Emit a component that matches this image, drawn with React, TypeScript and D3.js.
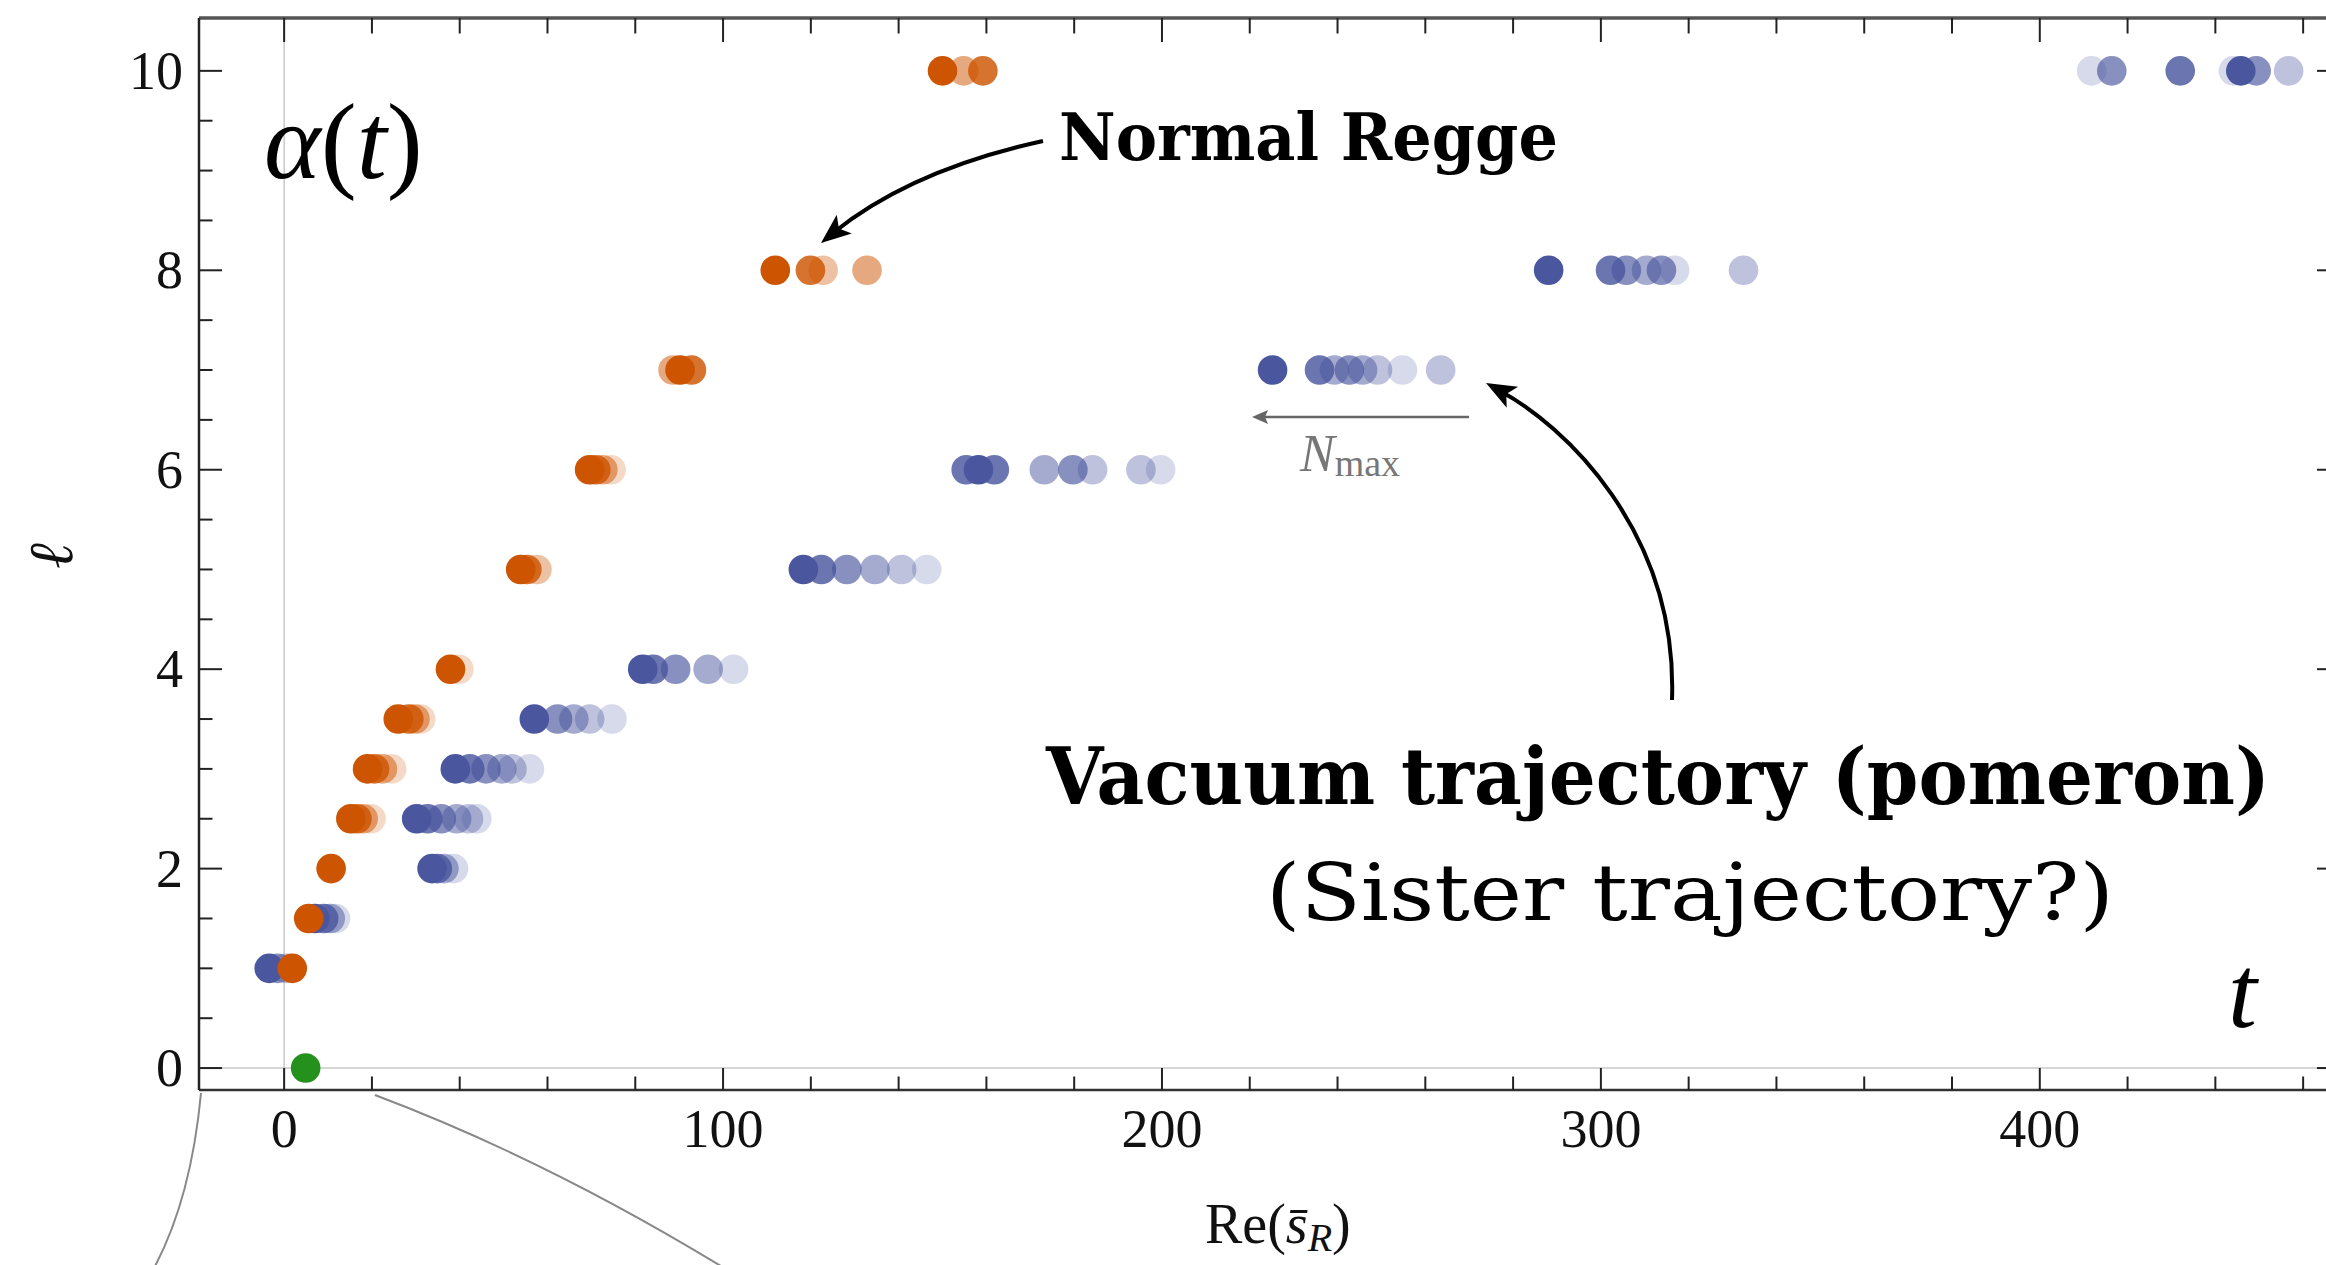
import React, { useLayoutEffect, useRef, useState } from "react";
import * as d3 from "d3";

const W = 2326;
const H = 1265;

// Normal Regge trajectory (orange): spin ℓ, Re(s̄_R), N_max level (0 = darkest)
const reggeEll = [1, 1.5, 2, 2.5, 2.5, 2.5, 2.5, 3, 3, 3, 3, 3.5, 3.5, 3.5, 3.5, 4, 4, 5, 5, 5, 6, 6, 6, 6, 7, 7, 7, 8, 8, 8, 8, 10, 10, 10];
const reggeRe = [1.85, 5.6, 10.7, 15.2, 16.6, 18.0, 19.8, 19.0, 20.6, 22.4, 24.5, 26.0, 28.4, 29.8, 31.1, 37.9, 39.8, 53.9, 55.3, 57.6, 69.6, 71.0, 72.6, 74.5, 88.6, 90.2, 92.8, 111.9, 119.9, 122.8, 132.8, 150.0, 154.8, 159.2];
const reggeLevel = [0, 0, 0, 0, 1, 3, 5, 0, 1, 3, 5, 0, 1, 3, 5, 0, 5, 0, 1, 4, 0, 1, 3, 5, 3, 0, 1, 0, 1, 4, 3, 0, 3, 1];

// Vacuum trajectory (blue)
const pomEll = [1, 1, 1, 1.5, 1.5, 1.5, 1.5, 2, 2, 2, 2, 2.5, 2.5, 2.5, 2.5, 2.5, 2.5, 3, 3, 3, 3, 3, 3, 3.5, 3.5, 3.5, 3.5, 3.5, 4, 4, 4, 4, 4, 5, 5, 5, 5, 5, 5, 6, 6, 6, 6, 6, 6, 6, 6, 7, 7, 7, 7, 7, 7, 7, 7, 8, 8, 8, 8, 8, 8, 8, 10, 10, 10, 10, 10, 10, 10];
const pomRe = [-3.4, -1.5, 0.5, 7.0, 9.0, 10.5, 11.7, 33.7, 34.9, 36.4, 38.6, 30.2, 32.7, 35.8, 39.3, 42.0, 43.9, 39.0, 42.3, 46.0, 49.6, 51.9, 55.9, 57.0, 62.3, 66.0, 69.6, 74.7, 81.7, 84.1, 89.2, 96.6, 102.4, 118.3, 122.4, 128.2, 134.6, 140.7, 146.4, 155.4, 158.2, 161.8, 173.2, 179.7, 184.2, 195.2, 199.7, 225.2, 235.9, 239.3, 242.7, 245.7, 249.1, 254.8, 263.5, 288.1, 302.2, 305.8, 310.4, 313.8, 316.8, 332.5, 411.8, 416.4, 432.0, 444.1, 445.8, 449.3, 456.7];
const pomLevel = [0, 2, 4, 0, 1, 3, 5, 0, 1, 3, 5, 0, 1, 2, 3, 4, 5, 0, 1, 2, 3, 4, 5, 0, 2, 3, 4, 5, 0, 1, 2, 3, 5, 0, 1, 2, 3, 4, 5, 1, 0, 1, 3, 2, 4, 4, 5, 0, 1, 3, 2, 3, 4, 5, 4, 0, 1, 2, 3, 2, 5, 4, 5, 2, 1, 5, 0, 2, 4];

// extra point (green)
const greenEll = [0];
const greenRe = [4.9];

const levelOpacity = [1, 0.82, 0.66, 0.5, 0.36, 0.22];
const xMajorTicks = [0, 100, 200, 300, 400];
const yMajorTicks = [0, 2, 4, 6, 8, 10];

const ORANGE = "#CD5400";
const BLUE = "#4A579E";
const GREEN = "#24911D";

function arrowHead(tx: number, ty: number, dx: number, dy: number, len = 30, half = 12, notch = 7) {
  const L = Math.hypot(dx, dy);
  const ux = dx / L, uy = dy / L;
  const px = -uy, py = ux;
  const bx = tx - ux * len, by = ty - uy * len;
  const nx = tx - ux * (len - notch), ny = ty - uy * (len - notch);
  return `M${tx},${ty}L${bx + px * half},${by + py * half}L${nx},${ny}L${bx - px * half},${by - py * half}Z`;
}

function FitText(props: { x: number; y: number; width: number; fontSize: number; bold?: boolean; family: string; text: string }) {
  const ref = useRef<SVGTextElement>(null);
  const [sx, setSx] = useState(1);
  useLayoutEffect(() => {
    if (ref.current) {
      const L = ref.current.getComputedTextLength();
      if (L > 0) setSx(props.width / L);
    }
  }, [props.width, props.text, props.fontSize]);
  return (
    <text
      ref={ref}
      transform={`translate(${props.x},${props.y}) scale(${sx},1)`}
      fontFamily={props.family}
      fontWeight={props.bold ? "bold" : "normal"}
      fontSize={props.fontSize}
      fill="#000"
    >
      {props.text}
    </text>
  );
}

export default function App() {
  const x = d3.scaleLinear().domain([-19.4, 468.4]).range([199, 2340]);
  const y = d3.scaleLinear().domain([-0.22, 10.53]).range([1090, 18]);
  const [x0, x1] = x.range();
  const [yb, yt] = y.range();
  const xMinor = d3.range(0, 461, 20);
  const yMinor = d3.range(0, 10.01, 0.5);

  const blue = pomEll.map((e, i) => ({ e, r: pomRe[i], a: levelOpacity[pomLevel[i]] })).sort((p, q) => p.a - q.a);
  const orange = reggeEll.map((e, i) => ({ e, r: reggeRe[i], a: levelOpacity[reggeLevel[i]] })).sort((p, q) => p.a - q.a);

  const R = 14.8;
  const serif = "'Liberation Serif', 'Times New Roman', serif";
  const slab = "'DejaVu Serif', serif";

  // annotation arrows
  const a1 = { p0: [1043, 141], c: [911, 170], p2: [821, 243] };
  const a2 = { p0: [1672, 700], c1: [1678, 530], c2: [1562, 424], p3: [1486, 383] };

  // zoom connector lines from the bottom axis
  const conn1 = `M${x0 + 2},${yb + 3} Q${x0 - 8},${yb + 110} ${x0 - 46},${H + 5}`;
  const conn2 = `M${x(20) + 3},${yb + 5} Q${x(60)},${yb + 70} ${x(101)},${H + 5}`;

  return (
    <svg width={W} height={H} style={{ position: "absolute", left: 0, top: 0, background: "#fff" }}>
      <rect x={0} y={0} width={W} height={H} fill="#fff" />
      {/* zero lines */}
      <line x1={x(0)} x2={x(0)} y1={yt} y2={yb} stroke="#c8c8c8" strokeWidth={1.5} />
      <line x1={x0} x2={x1} y1={y(0)} y2={y(0)} stroke="#c8c8c8" strokeWidth={1.5} />

      {/* points */}
      {blue.map((p, i) => (
        <circle key={"b" + i} cx={x(p.r)} cy={y(p.e)} r={R} fill={BLUE} fillOpacity={p.a} />
      ))}
      {orange.map((p, i) => (
        <circle key={"o" + i} cx={x(p.r)} cy={y(p.e)} r={R} fill={ORANGE} fillOpacity={p.a} />
      ))}
      {greenEll.map((e, i) => (
        <circle key={"g" + i} cx={x(greenRe[i])} cy={y(e)} r={R} fill={GREEN} />
      ))}

      {/* frame */}
      <line x1={x0} x2={x1} y1={yt} y2={yt} stroke="#555" strokeWidth={3.5} />
      <line x1={x0} x2={x1} y1={yb} y2={yb} stroke="#333" strokeWidth={2.5} />
      <line x1={x0} x2={x0} y1={yt} y2={yb} stroke="#222" strokeWidth={2.5} />
      <line x1={x1} x2={x1} y1={yt} y2={yb} stroke="#222" strokeWidth={2.5} />

      {/* x ticks */}
      {xMinor.map((v) => {
        const major = xMajorTicks.includes(v);
        const L = major ? 22 : 13.5;
        return (
          <g key={"xt" + v}>
            <line x1={x(v)} x2={x(v)} y1={yb} y2={yb - L} stroke="#222" strokeWidth={2} />
            <line x1={x(v)} x2={x(v)} y1={yt} y2={yt + L + 2} stroke="#222" strokeWidth={2} />
          </g>
        );
      })}
      {xMajorTicks.map((v) => (
        <text key={"xl" + v} x={x(v)} y={1147} textAnchor="middle" fontFamily={serif} fontSize={54} fill="#111">
          {v}
        </text>
      ))}

      {/* y ticks */}
      {yMinor.map((v) => {
        const major = yMajorTicks.includes(v);
        const L = major ? 23 : 13.5;
        return (
          <g key={"yt" + v}>
            <line x1={x0} x2={x0 + L} y1={y(v)} y2={y(v)} stroke="#222" strokeWidth={2} />
            <line x1={x1} x2={x1 - L} y1={y(v)} y2={y(v)} stroke="#222" strokeWidth={2} />
          </g>
        );
      })}
      {yMajorTicks.map((v) => (
        <text key={"yl" + v} x={183} y={y(v) + 18} textAnchor="end" fontFamily={serif} fontSize={54} fill="#111">
          {v}
        </text>
      ))}

      {/* axis labels */}
      <text x={1205} y={1243} fontFamily={serif} fontSize={56} fill="#111">
        Re(
        <tspan fontStyle="italic">s̄</tspan>
        <tspan fontStyle="italic" fontSize={40} dy={8}>R</tspan>
        <tspan dy={-8}>)</tspan>
      </text>
      <text
        x={0}
        y={0}
        transform="translate(72,556) rotate(-90)"
        textAnchor="middle"
        fontFamily={serif}
        fontStyle="italic"
        fontSize={62}
        fill="#111"
      >
        ℓ
      </text>

      {/* big math labels */}
      <text x={264} y={178} fontFamily={serif} fontSize={108} fill="#000">
        <tspan fontStyle="italic">α</tspan>(<tspan fontStyle="italic">t</tspan>)
      </text>
      <text x={2228} y={1027} fontFamily={serif} fontStyle="italic" fontSize={104} fill="#000">
        t
      </text>

      {/* annotations */}
      <FitText x={1059} y={160} width={499} fontSize={66} bold family={slab} text="Normal Regge" />
      <FitText x={1046} y={804} width={1224} fontSize={79} bold family={slab} text="Vacuum trajectory (pomeron)" />
      <FitText x={1266} y={920} width={848} fontSize={78} family={slab} text="(Sister trajectory?)" />

      {/* curved arrows */}
      <path
        d={`M${a1.p0[0]},${a1.p0[1]} Q${a1.c[0]},${a1.c[1]} ${a1.p2[0] + 12},${a1.p2[1] - 10}`}
        fill="none"
        stroke="#000"
        strokeWidth={4}
      />
      <path d={arrowHead(a1.p2[0], a1.p2[1], a1.p2[0] - a1.c[0], a1.p2[1] - a1.c[1], 30, 12, 7)} fill="#000" />
      <path
        d={`M${a2.p0[0]},${a2.p0[1]} C${a2.c1[0]},${a2.c1[1]} ${a2.c2[0]},${a2.c2[1]} ${a2.p3[0] + 14},${a2.p3[1] + 8}`}
        fill="none"
        stroke="#000"
        strokeWidth={4}
      />
      <path d={arrowHead(a2.p3[0], a2.p3[1], a2.p3[0] - a2.c2[0], a2.p3[1] - a2.c2[1], 30, 12, 7)} fill="#000" />

      {/* N_max arrow */}
      <line x1={1469} x2={1262} y1={417} y2={417} stroke="#666" strokeWidth={2.5} />
      <path d={arrowHead(1252, 417, -1, 0, 16, 7, 3)} fill="#666" />
      <text x={1300} y={471} fontFamily={serif} fontSize={52} fill="#777">
        <tspan fontStyle="italic">N</tspan>
        <tspan fontSize={38} dy={5}>max</tspan>
      </text>

      {/* connector lines */}
      <path d={conn1} fill="none" stroke="#888" strokeWidth={2} />
      <path d={conn2} fill="none" stroke="#888" strokeWidth={2} />
    </svg>
  );
}
